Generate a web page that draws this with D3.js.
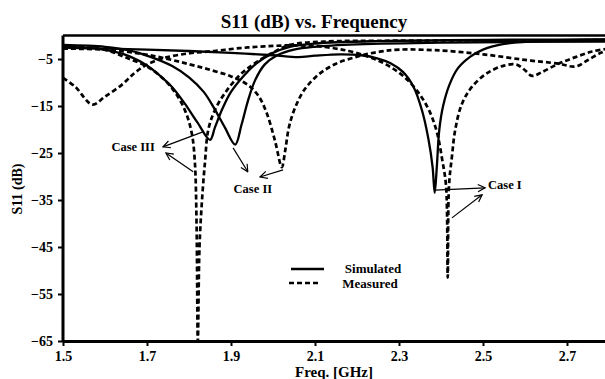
<!DOCTYPE html>
<html>
<head>
<meta charset="utf-8">
<script src="https://cdn.jsdelivr.net/npm/d3@7/dist/d3.min.js"></script>
<style>
  body { margin: 0; background: #fff; }
  svg { font-family: 'Liberation Serif', 'Times New Roman', serif; font-weight: bold; }
</style>
</head>
<body>
<svg id="chart" width="605" height="379"></svg>
<script>
// [GHz, dB]
const caseISim = [[1.5,-2.6],[1.6,-2.8],[1.7,-3.0],[1.8,-3.3],[1.9,-3.7],[2.0,-4.2],[2.06,-4.6],[2.1,-4.3],[2.16,-4.0],[2.21,-4.2],[2.25,-4.9],[2.28,-5.9],[2.31,-7.8],[2.335,-11],[2.355,-16],[2.37,-22],[2.38,-28],[2.385,-33.5],[2.39,-28],[2.396,-20],[2.405,-15],[2.42,-10.5],[2.44,-7],[2.47,-4.5],[2.5,-3],[2.55,-1.8],[2.65,-1.1],[2.8,-0.9]]
const caseIISim = [[1.5,-2.0],[1.6,-2.4],[1.66,-3.2],[1.71,-4.6],[1.76,-6.5],[1.8,-8.9],[1.835,-12],[1.86,-15.5],[1.885,-19.5],[1.91,-23.2],[1.925,-19],[1.94,-14],[1.957,-9.6],[1.98,-6.2],[2.01,-4.2],[2.05,-3.0],[2.1,-2.4],[2.2,-1.9],[2.4,-1.5],[2.8,-1.3]]
const caseIIISim = [[1.5,-2.4],[1.57,-2.7],[1.62,-3.4],[1.66,-4.5],[1.7,-6.4],[1.73,-8.5],[1.76,-11],[1.79,-14.5],[1.82,-18.5],[1.85,-22.2],[1.862,-19.5],[1.88,-15.5],[1.9,-12],[1.93,-8.6],[1.96,-6.0],[2.0,-3.7],[2.04,-2.4],[2.1,-1.7],[2.25,-1.2],[2.8,-0.8]]

const caseIMeas = [[1.5,-9],[1.53,-11],[1.57,-14.7],[1.6,-13],[1.64,-10.5],[1.67,-8],[1.7,-6.2],[1.74,-4.8],[1.8,-3.8],[1.86,-3.3],[1.92,-2.7],[1.98,-2.3],[2.05,-2.1],[2.12,-2.4],[2.18,-3.3],[2.23,-4.6],[2.27,-6.2],[2.31,-8.6],[2.345,-12],[2.372,-16],[2.39,-20.5],[2.403,-26.5],[2.412,-32],[2.416,-51.5],[2.419,-32],[2.426,-25.8],[2.434,-20],[2.45,-14.5],[2.474,-10.9],[2.51,-8],[2.55,-6.4],[2.58,-6.2],[2.6,-7.4],[2.617,-8.6],[2.64,-7.8],[2.68,-6.0],[2.72,-4.6],[2.76,-3.4],[2.8,-2.8]]
const caseIIMeas = [[1.5,-2.8],[1.6,-3.0],[1.68,-3.8],[1.74,-4.8],[1.8,-6.1],[1.85,-7.3],[1.9,-8.7],[1.94,-10.5],[1.965,-12.8],[1.985,-16.5],[2.005,-22.5],[2.021,-28],[2.029,-24.5],[2.038,-19.5],[2.052,-15.5],[2.075,-11.5],[2.11,-8.2],[2.15,-6.0],[2.2,-4.5],[2.25,-3.5],[2.3,-3.0],[2.4,-3.2],[2.5,-4.0],[2.6,-5.2],[2.68,-6.0],[2.72,-6.6],[2.75,-5.2],[2.78,-3.7],[2.8,-3.0]]
const caseIIIMeas = [[1.5,-2.3],[1.57,-2.6],[1.61,-3.3],[1.65,-4.7],[1.7,-6.6],[1.74,-9.3],[1.77,-12.5],[1.793,-16.5],[1.807,-21],[1.814,-27],[1.818,-40],[1.821,-65],[1.825,-45],[1.831,-35],[1.838,-27],[1.846,-20],[1.862,-15.8],[1.886,-12.2],[1.92,-8.5],[1.957,-5.9],[2.0,-3.6],[2.04,-2.0],[2.12,-1.3],[2.3,-1.1],[2.8,-1.0]]

const xTicks = [1.5, 1.7, 1.9, 2.1, 2.3, 2.5, 2.7]
const yTicks = [-5, -15, -25, -35, -45, -55, -65]

// label anchor and arrow [from, to] in data units
const annotations = [
  { text: 'Case III', at: [1.667, -24.5], anchor: 'middle',
    arrows: [[[1.833, -20.5], [1.738, -23.7]], [[1.81, -29], [1.745, -25]]] },
  { text: 'Case II', at: [1.952, -33.6], anchor: 'middle',
    arrows: [[[1.905, -23.9], [1.94, -29]], [[2.024, -28.6], [1.969, -30.1]]] },
  { text: 'Case I', at: [2.512, -32.7], anchor: 'start',
    arrows: [[[2.386, -32.9], [2.505, -32.4]], [[2.426, -38.8], [2.498, -33.9]]] }
]

const svg = d3.select('#chart')
const margin = { left: 63, top: 35.5, bottom: 341 }
const x = d3.scaleLinear().domain([1.5, 2.8]).range([margin.left, margin.left + 420 * 1.3])
const y = d3.scaleLinear().domain([-65, 0]).range([margin.bottom, margin.top])

const line = d3.line().x((d) => x(d[0])).y((d) => y(d[1])).curve(d3.curveCatmullRom.alpha(0.5))

svg.append('defs').append('marker')
  .attr('id', 'arr')
  .attr('viewBox', '0 0 10 10')
  .attr('refX', 9).attr('refY', 5)
  .attr('markerWidth', 9).attr('markerHeight', 9)
  .attr('markerUnits', 'userSpaceOnUse')
  .attr('orient', 'auto')
  .append('path')
  .attr('d', 'M1,1 L9,5 L1,9')
  .attr('fill', 'none')
  .attr('stroke', '#000')
  .attr('stroke-width', 1.3)

// curves
const plot = svg.append('g')
;[caseISim, caseIISim, caseIIISim].forEach((s) => {
  plot.append('path').attr('d', line(s))
    .attr('fill', 'none').attr('stroke', '#000').attr('stroke-width', 2.3)
})
;[caseIMeas, caseIIMeas, caseIIIMeas].forEach((s) => {
  plot.append('path').attr('d', line(s))
    .attr('fill', 'none').attr('stroke', '#000').attr('stroke-width', 2.7)
    .attr('stroke-dasharray', '5,3')
})

// top frame
svg.append('line')
  .attr('x1', margin.left).attr('x2', 605)
  .attr('y1', margin.top).attr('y2', margin.top)
  .attr('stroke', '#000').attr('stroke-width', 2.5)

// axes
const xAxis = svg.append('g')
  .attr('transform', `translate(0,${margin.bottom})`)
  .call(d3.axisBottom(x).tickValues(xTicks).tickSize(5).tickSizeOuter(0).tickFormat(d3.format('.1f')))
xAxis.select('.domain').attr('stroke-width', 3)
xAxis.selectAll('.tick line').attr('stroke-width', 2)
xAxis.selectAll('.tick text').attr('font-size', 14).attr('font-family', 'Liberation Serif')
  .attr('y', 8).attr('dy', '0.85em')

const yAxis = svg.append('g')
  .attr('transform', `translate(${margin.left},0)`)
  .call(d3.axisLeft(y).tickValues(yTicks).tickSize(5).tickSizeOuter(0))
yAxis.select('.domain').attr('stroke-width', 3).attr('d', `M0,${margin.top}V${margin.bottom}`)
yAxis.selectAll('.tick line').attr('stroke-width', 2)
yAxis.selectAll('.tick text').attr('font-size', 14).attr('font-family', 'Liberation Serif').attr('x', -10)

// titles
svg.append('text').attr('x', 314).attr('y', 28).attr('text-anchor', 'middle')
  .attr('font-size', 19).text('S11 (dB) vs. Frequency')
svg.append('text').attr('transform', 'translate(22,189) rotate(-90)').attr('text-anchor', 'middle')
  .attr('font-size', 14).text('S11 (dB)')
svg.append('text').attr('x', 334).attr('y', 377).attr('text-anchor', 'middle')
  .attr('font-size', 15).text('Freq. [GHz]')

// annotations
annotations.forEach((a) => {
  svg.append('text').attr('x', x(a.at[0])).attr('y', y(a.at[1]))
    .attr('text-anchor', a.anchor).attr('font-size', 12.5).text(a.text)
  a.arrows.forEach(([p0, p1]) => {
    svg.append('line')
      .attr('x1', x(p0[0])).attr('y1', y(p0[1]))
      .attr('x2', x(p1[0])).attr('y2', y(p1[1]))
      .attr('stroke', '#000').attr('stroke-width', 1.2)
      .attr('marker-end', 'url(#arr)')
  })
})

// legend
const legend = svg.append('g')
legend.append('line').attr('x1', 291).attr('x2', 324).attr('y1', 269).attr('y2', 269)
  .attr('stroke', '#000').attr('stroke-width', 2.6)
legend.append('line').attr('x1', 289).attr('x2', 321).attr('y1', 283).attr('y2', 283)
  .attr('stroke', '#000').attr('stroke-width', 2.6).attr('stroke-dasharray', '5,3')
legend.append('text').attr('x', 373).attr('y', 273).attr('text-anchor', 'middle')
  .attr('font-size', 13).text('Simulated')
legend.append('text').attr('x', 370).attr('y', 288).attr('text-anchor', 'middle')
  .attr('font-size', 13).text('Measured')
</script>
</body>
</html>
